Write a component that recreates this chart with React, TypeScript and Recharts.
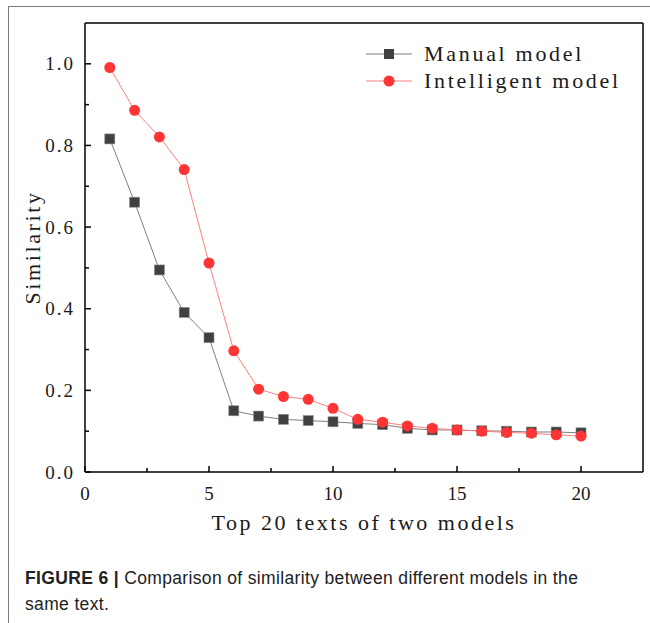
import React from 'react';
import { LineChart, Line, XAxis, YAxis, Legend, ReferenceLine } from 'recharts';

// ---- data ----
const textIndex = [1, 2, 3, 4, 5, 6, 7, 8, 9, 10, 11, 12, 13, 14, 15, 16, 17, 18, 19, 20];
const manualModel = [0.816, 0.661, 0.495, 0.391, 0.329, 0.150, 0.137, 0.129, 0.126, 0.123, 0.119, 0.116, 0.107, 0.103, 0.103, 0.101, 0.100, 0.098, 0.098, 0.096];
const intelligentModel = [0.991, 0.886, 0.821, 0.741, 0.512, 0.297, 0.203, 0.185, 0.178, 0.156, 0.129, 0.122, 0.113, 0.107, 0.103, 0.100, 0.097, 0.095, 0.091, 0.088];
const xTicks = [0, 2.5, 5, 7.5, 10, 12.5, 15, 17.5, 20];
const xMajor = [0, 5, 10, 15, 20];
const yTicks = [0, 0.1, 0.2, 0.3, 0.4, 0.5, 0.6, 0.7, 0.8, 0.9, 1.0];
const yMajor = [0, 0.2, 0.4, 0.6, 0.8, 1.0];
const xDomain = [0, 22.5];
const yDomain = [0, 1.1];
const seriesOrder = ['manual', 'intelligent'];
const seriesNames = { manual: 'Manual model', intelligent: 'Intelligent model' };
const xLabel = 'Top 20 texts of two models';
const yLabel = 'Similarity';

const data = textIndex.map((x, i) => ({ x, manual: manualModel[i], intelligent: intelligentModel[i] }));

const SERIF = "'Liberation Serif', 'DejaVu Serif', serif";
const Y_MARGIN = 10;
const X_MARGIN = 15;

const isIn = (arr: number[], v: number) => arr.some((m) => Math.abs(m - v) < 1e-6);

const YTick = (props: any) => {
  const { x, y, payload } = props;
  const v = payload.value as number;
  const major = isIn(yMajor, v);
  const ax = x + Y_MARGIN;
  return (
    <g>
      <line x1={ax} x2={ax + (major ? 6 : 4)} y1={y} y2={y} stroke="#000" strokeWidth={1.5} />
      {major && (
        <text x={x} y={y + 6.5} textAnchor="end" fontFamily={SERIF} fontSize={19} letterSpacing={2} fill="#1a1a1a">
          {v.toFixed(1)}
        </text>
      )}
    </g>
  );
};

const XTick = (props: any) => {
  const { x, y, payload } = props;
  const v = payload.value as number;
  const major = isIn(xMajor, v);
  const ay = y - X_MARGIN;
  return (
    <g>
      <line x1={x} x2={x} y1={ay} y2={ay - (major ? 6 : 4)} stroke="#000" strokeWidth={1.5} />
      {major && (
        <text x={x} y={y + 13} textAnchor="middle" fontFamily={SERIF} fontSize={19} fill="#1a1a1a">
          {String(v)}
        </text>
      )}
    </g>
  );
};

const SquareDot = (props: any) => {
  const { cx, cy, index } = props;
  if (cx == null || cy == null) return <g key={index} />;
  return <rect key={index} x={cx - 5} y={cy - 5} width={10} height={10} fill="#404040" stroke="#8a8a8a" strokeWidth={0.6} />;
};

const CircleDot = (props: any) => {
  const { cx, cy, index } = props;
  if (cx == null || cy == null) return <g key={index} />;
  return <circle key={index} cx={cx} cy={cy} r={5.5} fill="#ff3434" />;
};

const LegendContent = (props: any) => {
  const payload = [...(props.payload || [])].sort(
    (a: any, b: any) => seriesOrder.indexOf(a.dataKey) - seriesOrder.indexOf(b.dataKey)
  );
  return (
    <svg width={280} height={60} style={{ overflow: 'visible' }}>
      {payload.map((entry: any, i: number) => {
        const cy = 16 + i * 27;
        const isManual = entry.dataKey === 'manual';
        return (
          <g key={i}>
            <line x1={6} x2={52} y1={cy} y2={cy} stroke={isManual ? '#7f7f7f' : '#ff7f7f'} strokeWidth={1.2} />
            {isManual ? (
              <rect x={24} y={cy - 5} width={10} height={10} fill="#404040" />
            ) : (
              <circle cx={29} cy={cy} r={5.5} fill="#ff3434" />
            )}
            <text x={64} y={cy + 7} fontFamily={SERIF} fontSize={22} letterSpacing={2.7} fill="#1a1a1a">
              {entry.value}
            </text>
          </g>
        );
      })}
    </svg>
  );
};

const YAxisLabel = (props: any) => {
  const vb = props.viewBox || { x: 35, y: 23, width: 50, height: 449 };
  const cx = vb.x - 3;
  const cy = vb.y + vb.height / 2;
  return (
    <text x={cx} y={cy} transform={`rotate(-90 ${cx} ${cy})`} textAnchor="middle" dominantBaseline="central" fontFamily={SERIF} fontSize={22} letterSpacing={2.6} fill="#1a1a1a">
      {yLabel}
    </text>
  );
};

const XAxisLabel = (props: any) => {
  const vb = props.viewBox || { x: 85, y: 472, width: 558, height: 40 };
  const cx = vb.x + vb.width / 2;
  const cy = vb.y + 50;
  return (
    <text x={cx} y={cy} textAnchor="middle" dominantBaseline="central" fontFamily={SERIF} fontSize={22} letterSpacing={2.5} fill="#1a1a1a">
      {xLabel}
    </text>
  );
};

export default function App() {
  return (
    <div style={{ position: 'absolute', left: 0, top: 0, width: 650, height: 623, background: '#fff', overflow: 'hidden' }}>
      <div style={{ position: 'absolute', left: 8, top: 6, width: 642, height: 617, borderTop: '1px solid #7a7a7a', borderLeft: '1px solid #7a7a7a', boxSizing: 'border-box' }} />
      <LineChart width={650} height={623} data={data} margin={{ top: 23, right: 7, left: 35, bottom: 111 }}>
        <XAxis
          dataKey="x"
          type="number"
          domain={xDomain}
          ticks={xTicks}
          interval={0}
          height={40}
          tickSize={0}
          tickMargin={X_MARGIN}
          tick={<XTick />}
          axisLine={{ stroke: '#000', strokeWidth: 1.5 }}
          label={{ content: <XAxisLabel /> }}
        />
        <YAxis
          type="number"
          domain={yDomain}
          ticks={yTicks}
          interval={0}
          width={50}
          tickSize={0}
          tickMargin={Y_MARGIN}
          tick={<YTick />}
          axisLine={{ stroke: '#000', strokeWidth: 1.5 }}
          label={{ content: <YAxisLabel /> }}
        />
        <ReferenceLine y={yDomain[1]} stroke="#000" strokeWidth={1.5} />
        <ReferenceLine x={xDomain[1]} stroke="#000" strokeWidth={1.5} />
        <Legend
          layout="vertical"
          align="center"
          verticalAlign="middle"
          content={<LegendContent />}
          wrapperStyle={{ position: 'absolute', left: 360, top: 38, width: 280, height: 60 }}
        />
        <Line dataKey="manual" name={seriesNames.manual} stroke="#7f7f7f" strokeWidth={1} dot={SquareDot} activeDot={false} isAnimationActive={false} />
        <Line dataKey="intelligent" name={seriesNames.intelligent} stroke="#ff7f7f" strokeWidth={1} dot={CircleDot} activeDot={false} isAnimationActive={false} />
      </LineChart>
      <div style={{ position: 'absolute', left: 25, top: 565, fontFamily: "'Liberation Sans', Arial, sans-serif", fontSize: 17.5, letterSpacing: 0.35, lineHeight: '26px', color: '#222', whiteSpace: 'nowrap' }}>
        <span style={{ fontWeight: 'bold' }}>FIGURE 6 |</span> Comparison of similarity between different models in the
        <br />
        same text.
      </div>
    </div>
  );
}
